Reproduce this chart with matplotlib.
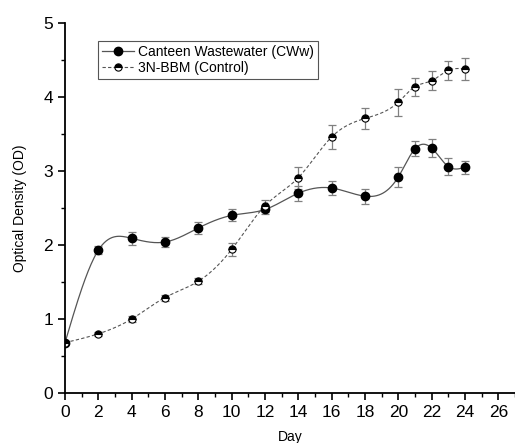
import numpy as np
import matplotlib
matplotlib.use('Agg')
import matplotlib.pyplot as plt
from matplotlib.ticker import MultipleLocator

plt.rcParams['font.family'] = ['Liberation Sans', 'DejaVu Sans']

days = [0, 2, 4, 6, 8, 10, 12, 14, 16, 18, 20, 21, 22, 23, 24]
cww = [0.68, 1.93, 2.09, 2.04, 2.23, 2.40, 2.48, 2.70, 2.77, 2.66, 2.92, 3.30, 3.31, 3.06, 3.05]
cww_err = [0.02, 0.05, 0.09, 0.07, 0.08, 0.08, 0.06, 0.10, 0.10, 0.10, 0.14, 0.10, 0.12, 0.12, 0.09]
ctrl = [0.68, 0.80, 1.00, 1.29, 1.51, 1.94, 2.53, 2.91, 3.46, 3.71, 3.93, 4.14, 4.22, 4.36, 4.38]
ctrl_err = [0.02, 0.03, 0.04, 0.04, 0.04, 0.09, 0.08, 0.15, 0.16, 0.14, 0.18, 0.12, 0.13, 0.13, 0.15]


def spline(x, y, n=400):
    # natural cubic spline, only used to draw the connecting line
    x = np.asarray(x, float)
    y = np.asarray(y, float)
    k = len(x)
    h = np.diff(x)
    A = np.zeros((k, k))
    b = np.zeros(k)
    A[0, 0] = 1
    A[-1, -1] = 1
    for i in range(1, k - 1):
        A[i, i - 1] = h[i - 1]
        A[i, i] = 2 * (h[i - 1] + h[i])
        A[i, i + 1] = h[i]
        b[i] = 3 * ((y[i + 1] - y[i]) / h[i] - (y[i] - y[i - 1]) / h[i - 1])
    c = np.linalg.solve(A, b)
    xs = np.linspace(x[0], x[-1], n)
    idx = np.clip(np.searchsorted(x, xs) - 1, 0, k - 2)
    bb = (y[idx + 1] - y[idx]) / h[idx] - h[idx] * (2 * c[idx] + c[idx + 1]) / 3
    d = (c[idx + 1] - c[idx]) / (3 * h[idx])
    t = xs - x[idx]
    return xs, y[idx] + bb * t + c[idx] * t ** 2 + d * t ** 3


fig = plt.figure(figsize=(5.15, 4.43), dpi=100)
ax = fig.add_axes([65 / 515, 1 - 393 / 443, 450 / 515, 370 / 443])

xs, ys = spline(days, cww)
ax.plot(xs, ys, color='#555555', lw=0.9)
xs, ys = spline(days, ctrl)
ax.plot(xs, ys, color='#555555', lw=0.8, ls=(0, (3, 2)))

ax.errorbar(days, cww, yerr=cww_err, fmt='none', ecolor='#808080', elinewidth=0.9, capsize=3, capthick=0.9)
ax.errorbar(days, ctrl, yerr=ctrl_err, fmt='none', ecolor='#808080', elinewidth=0.9, capsize=3, capthick=0.9)
ax.plot(days, cww, 'o', color='black', ms=6, ls='none')
ax.plot(days, ctrl, 'o', color='black', ms=5.2, ls='none', fillstyle='top',
        markerfacecoloralt='white', markeredgewidth=0.8)

h1, = ax.plot([], [], color='#555555', lw=0.9, marker='o', ms=6, mfc='black', mec='black')
h2, = ax.plot([], [], color='#555555', lw=0.8, ls=(0, (3, 2)), marker='o', ms=5.2, mfc='black',
              mec='black', fillstyle='top', markerfacecoloralt='white', markeredgewidth=0.8)
leg = ax.legend([h1, h2], ['Canteen Wastewater (CWw)', '3N-BBM (Control)'],
                loc='upper left', bbox_to_anchor=(0.073, 0.952), fontsize=10,
                fancybox=False, framealpha=1, edgecolor='#555555', borderpad=0.3,
                labelspacing=0.15, handlelength=2.3, handletextpad=0.3, borderaxespad=0)
leg.get_frame().set_linewidth(0.8)

ax.set_xlim(0, 27)
ax.set_ylim(0, 5)
ax.xaxis.set_major_locator(MultipleLocator(2))
ax.xaxis.set_minor_locator(MultipleLocator(1))
ax.yaxis.set_major_locator(MultipleLocator(1))
ax.yaxis.set_minor_locator(MultipleLocator(0.5))
ax.tick_params(which='major', length=5, width=1.2, labelsize=12.5, direction='out')
ax.tick_params(which='minor', length=3, width=1.0, direction='out')
ax.spines['top'].set_visible(False)
ax.spines['right'].set_visible(False)
ax.spines['left'].set_linewidth(1.3)
ax.spines['bottom'].set_linewidth(1.3)
ax.set_xlabel('Day', fontsize=10, labelpad=7)
ax.set_ylabel('Optical Density (OD)', fontsize=10, labelpad=12)

fig.savefig('out.png', dpi=100)
